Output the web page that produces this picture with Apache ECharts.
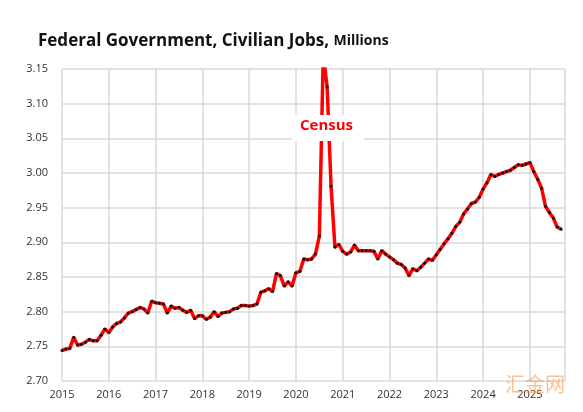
<!DOCTYPE html>
<html>
<head>
<meta charset="utf-8">
<script src="https://cdn.jsdelivr.net/npm/echarts@6/dist/echarts.min.js"></script>
<style>html,body{margin:0;padding:0;background:#fff}#chart{width:583px;height:412px}</style>
</head>
<body>
<div id="chart"></div>
<script>
// monthly values, Jan 2015 .. Sep 2025 (millions)
var startYear = 2015;
var jobs2015 = [2.744, 2.746, 2.747, 2.763, 2.752, 2.753, 2.756, 2.760, 2.758, 2.758, 2.766, 2.775];
var jobs2016 = [2.770, 2.778, 2.783, 2.785, 2.791, 2.798, 2.800, 2.803, 2.806, 2.804, 2.798, 2.815];
var jobs2017 = [2.813, 2.812, 2.811, 2.798, 2.808, 2.805, 2.806, 2.802, 2.799, 2.802, 2.790, 2.794];
var jobs2018 = [2.794, 2.789, 2.792, 2.800, 2.793, 2.798, 2.799, 2.800, 2.804, 2.805, 2.809, 2.809];
var jobs2019 = [2.808, 2.809, 2.811, 2.828, 2.830, 2.833, 2.829, 2.855, 2.852, 2.837, 2.843, 2.837];
var jobs2020 = [2.856, 2.858, 2.876, 2.875, 2.876, 2.883, 2.909, 3.170, 3.124, 2.981, 2.893, 2.897];
var jobs2021 = [2.887, 2.883, 2.886, 2.896, 2.888, 2.888, 2.888, 2.888, 2.887, 2.876, 2.888, 2.883];
var jobs2022 = [2.879, 2.875, 2.870, 2.868, 2.863, 2.852, 2.862, 2.859, 2.864, 2.870, 2.876, 2.874];
var jobs2023 = [2.882, 2.890, 2.898, 2.905, 2.913, 2.923, 2.929, 2.941, 2.948, 2.956, 2.958, 2.965];
var jobs2024 = [2.977, 2.986, 2.998, 2.995, 2.998, 3.000, 3.002, 3.004, 3.008, 3.012, 3.011, 3.013];
var jobs2025 = [3.015, 3.002, 2.991, 2.978, 2.952, 2.943, 2.935, 2.922, 2.919];
var yearTicks = [2015, 2016, 2017, 2018, 2019, 2020, 2021, 2022, 2023, 2024, 2025];

var allYears = [jobs2015, jobs2016, jobs2017, jobs2018, jobs2019, jobs2020,
                jobs2021, jobs2022, jobs2023, jobs2024, jobs2025];
var points = [];
allYears.forEach(function (arr, yi) {
    arr.forEach(function (v, m) {
        points.push([startYear + yi + m / 12, v]);
    });
});

var myChart = echarts.init(document.getElementById('chart'));
var option = {
    animation: false,
    title: {
        left: 33, top: 28,
        text: '{a|Federal Government, Civilian Jobs, }{b|Millions}',
        textStyle: {
            rich: {
                a: {fontFamily: 'Open Sans', fontWeight: 'bold', fontSize: 17, color: '#111'},
                b: {fontFamily: 'Open Sans', fontWeight: 'bold', fontSize: 14, color: '#111'}
            }
        }
    },
    grid: {left: 62, right: 18, top: 69, bottom: 31},
    xAxis: {
        type: 'value', min: 2015, max: 2025.75, interval: 1,
        axisLine: {show: false}, axisTick: {show: false},
        axisLabel: {
            color: '#333', fontSize: 11, fontFamily: 'Open Sans', showMaxLabel: false,
            formatter: function (v) { return yearTicks.indexOf(v) >= 0 ? String(v) : ''; }
        },
        splitLine: {show: true, lineStyle: {color: '#d9d9d9', width: 1.5}}
    },
    yAxis: {
        type: 'value', min: 2.70, max: 3.15, interval: 0.05,
        axisLine: {show: false}, axisTick: {show: false},
        axisLabel: {color: '#333', fontSize: 11, fontFamily: 'Open Sans', margin: 14,
                    formatter: function (v) { return v.toFixed(2); }},
        splitLine: {lineStyle: {color: '#d9d9d9', width: 1.5}}
    },
    series: [{
        type: 'line',
        data: points,
        clip: true,
        symbol: 'circle', symbolSize: 3,
        itemStyle: {color: '#111'},
        lineStyle: {color: '#ff0000', width: 3.5}
    }],
    graphic: [{
        type: 'rect', left: 292, top: 115, z: 100, shape: {width: 72, height: 26},
        style: {fill: '#fff'}
    }, {
        type: 'text', left: 300, top: 118, z: 101,
        style: {text: 'Census', fill: '#ff0000', fontSize: 15, fontWeight: 'bold', fontFamily: 'Open Sans'}
    }, {
        type: 'text', right: 18, bottom: 18, z: 101,
        style: {text: '汇金网', fill: 'rgba(240,150,60,0.55)', fontSize: 20, fontFamily: 'Noto Sans CJK SC'}
    }]
};
myChart.setOption(option);
</script>
</body>
</html>
